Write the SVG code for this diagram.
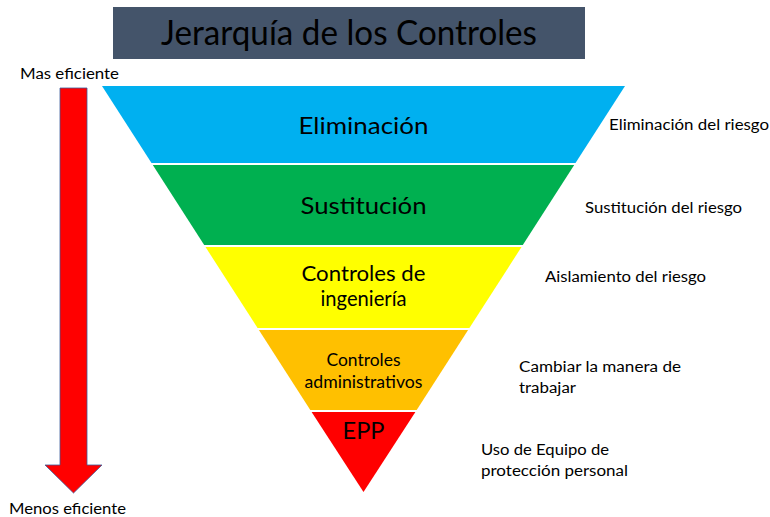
<svg xmlns="http://www.w3.org/2000/svg" width="770" height="517" viewBox="0 0 770 517">
<style>
text{font-family:Lato,"Liberation Sans",Arial,sans-serif;fill:#000}
.side{font-size:15.5px}
.band{text-anchor:middle}
</style>
<rect width="770" height="517" fill="#fff"/>
<g id="title">
<rect x="113" y="7" width="472" height="52" fill="#44546A"/>
<text x="349" y="45" font-size="34" text-anchor="middle" textLength="376" lengthAdjust="spacingAndGlyphs">Jerarquía de los Controles</text>
</g>
<g id="arrow">
<path d="M60,88 H87 V465 H102 L73.5,493 L45,465 H60 Z" fill="#FF0000" stroke="#3A5A99" stroke-width="0.8"/>
<text x="20" y="79" class="side" textLength="99" lengthAdjust="spacingAndGlyphs">Mas eficiente</text>
<text x="9" y="514" class="side" textLength="117" lengthAdjust="spacingAndGlyphs">Menos eficiente</text>
</g>
<g id="eliminacion">
<polygon points="102,86 625,86 575.5,163 151.5,163" fill="#00B0F0"/>
<text x="363.5" y="134" class="band" font-size="24" textLength="130" lengthAdjust="spacingAndGlyphs">Eliminación</text>
<text x="609" y="130" class="side" textLength="160" lengthAdjust="spacingAndGlyphs">Eliminación del riesgo</text>
</g>
<g id="sustitucion">
<polygon points="152.8,165 574.2,165 522.8,245 204.2,245" fill="#00B050"/>
<text x="363.5" y="214" class="band" font-size="24" textLength="126" lengthAdjust="spacingAndGlyphs">Sustitución</text>
<text x="585" y="213" class="side" textLength="157" lengthAdjust="spacingAndGlyphs">Sustitución del riesgo</text>
</g>
<g id="ingenieria">
<polygon points="205.5,247 521.5,247 469.4,328 257.6,328" fill="#FFFF00"/>
<text x="363.5" y="281" class="band" font-size="21" textLength="124" lengthAdjust="spacingAndGlyphs">Controles de</text>
<text x="363.5" y="306" class="band" font-size="21" textLength="86" lengthAdjust="spacingAndGlyphs">ingeniería</text>
<text x="545" y="282" class="side" textLength="161" lengthAdjust="spacingAndGlyphs">Aislamiento del riesgo</text>
</g>
<g id="administrativos">
<polygon points="258.9,330 468.1,330 416.7,410 310.3,410" fill="#FFC000"/>
<text x="363.5" y="366" class="band" font-size="16.5" textLength="74" lengthAdjust="spacingAndGlyphs">Controles</text>
<text x="363.5" y="388" class="band" font-size="16.5" textLength="118" lengthAdjust="spacingAndGlyphs">administrativos</text>
<text x="519" y="372" class="side" textLength="162" lengthAdjust="spacingAndGlyphs">Cambiar la manera de</text>
<text x="519" y="393" class="side" textLength="57" lengthAdjust="spacingAndGlyphs">trabajar</text>
</g>
<g id="epp">
<polygon points="311.6,412 415.4,412 363.5,492" fill="#FF0000"/>
<text x="363.5" y="439" class="band" font-size="23" textLength="42" lengthAdjust="spacingAndGlyphs">EPP</text>
<text x="481" y="455" class="side" textLength="128" lengthAdjust="spacingAndGlyphs">Uso de Equipo de</text>
<text x="481" y="476" class="side" textLength="147" lengthAdjust="spacingAndGlyphs">protección personal</text>
</g>
<g id="connectors"/>
</svg>
